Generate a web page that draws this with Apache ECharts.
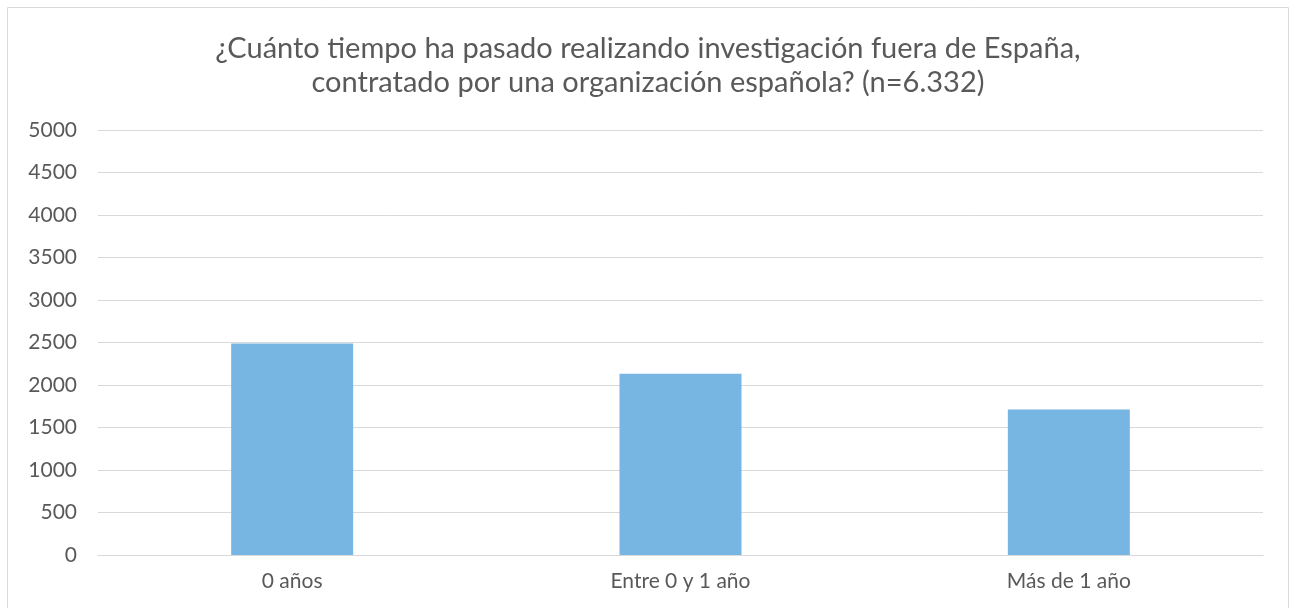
<!DOCTYPE html>
<html>
<head>
<meta charset="utf-8">
<script src="https://cdn.jsdelivr.net/npm/echarts@6/dist/echarts.min.js"></script>
<style>
  html, body { margin: 0; padding: 0; background: #fff; }
  #chart { width: 1296px; height: 608px; }
</style>
</head>
<body>
<div id="chart"></div>
<script>
// categorías y valores
var categorias = ['0 años', 'Entre 0 y 1 año', 'Más de 1 año'];
var valores = [2488, 2132, 1712];
var titulo = '¿Cuánto tiempo ha pasado realizando investigación fuera de España,\ncontratado por una organización española? (n=6.332)';

var myChart = echarts.init(document.getElementById('chart'));
var fuente = 'Lato, "Noto Sans", sans-serif';

var option = {
    animation: false,
    graphic: [{
        type: 'rect',
        shape: { x: 7.5, y: 7.5, width: 1281, height: 610 },
        style: { fill: 'none', stroke: '#d9d9d9', lineWidth: 1 }
    }],
    title: {
        text: titulo,
        left: 'center',
        top: 27,
        textStyle: {
            fontFamily: fuente,
            fontSize: 29,
            fontWeight: 'normal',
            color: '#595959',
            lineHeight: 34
        }
    },
    grid: {
        left: 98,
        right: 33,
        top: 130,
        bottom: 53,
        containLabel: false
    },
    xAxis: {
        type: 'category',
        data: categorias,
        axisTick: { show: false },
        axisLine: { lineStyle: { color: '#d9d9d9', width: 1 } },
        axisLabel: {
            margin: 16,
            fontFamily: fuente,
            fontSize: 21,
            color: '#595959'
        }
    },
    yAxis: {
        type: 'value',
        min: 0,
        max: 5000,
        interval: 500,
        axisLine: { show: false },
        axisTick: { show: false },
        splitLine: { lineStyle: { color: '#d9d9d9', width: 1 } },
        axisLabel: {
            margin: 21,
            fontFamily: fuente,
            fontSize: 21,
            color: '#595959',
            formatter: function (v) { return String(v); }
        }
    },
    series: [{
        type: 'bar',
        data: valores,
        barWidth: 122,
        itemStyle: { color: '#77b5e3' }
    }]
};

myChart.setOption(option);
</script>
</body>
</html>
